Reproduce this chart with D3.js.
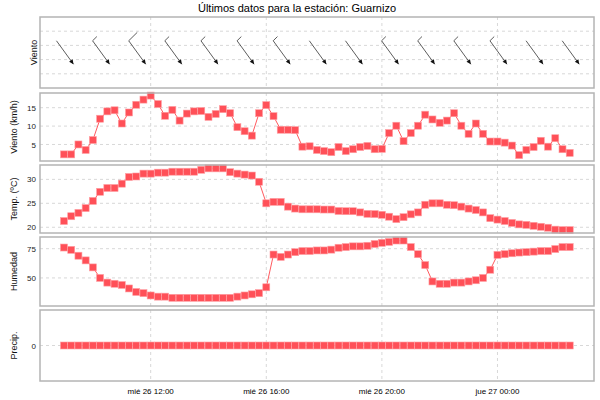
<!DOCTYPE html>
<html lang="es">
<head>
<meta charset="UTF-8">
<script src="https://cdnjs.cloudflare.com/ajax/libs/d3/7.6.1/d3.min.js"></script>
<style>
  body { margin: 0; background: #fff; font-family: "Liberation Sans", Arial, sans-serif; }
  .frame { fill: none; stroke: #b4b4b4; stroke-width: 1.5px; }
  .grid line { stroke: #d8d8d8; stroke-dasharray: 3,3; }
  .tick text { font-size: 8px; fill: #222; font-family: "Liberation Sans", Arial, sans-serif; }
  .ylab { font-size: 9px; fill: #111; }
</style>
</head>
<body>
<div id="wrapper"></div>
<script>
// 15-minute samples, mié 26 09:00 -> jue 27 02:30
const start = new Date(2024, 5, 26, 9, 0);
const speed = [2.3,2.3,5,3.5,6.2,12,14,14.3,10.7,13.7,15.8,17.2,18.3,16,12.8,14.4,11.5,13.4,14,14.1,
  12.5,13.3,14.6,13.5,9.7,8.6,7.4,13.5,15.7,12.7,9,9,8.9,4.4,4.5,3.5,3.2,2.9,4.3,3.2,
  3.7,4.3,4.6,3.7,3.8,8.1,10.1,5.9,8.1,10.1,13.1,11.8,10.9,11.5,13.5,10.1,7.9,10.7,7.9,5.8,
  5.8,5.5,4.7,2.1,3.5,4.3,6,4.4,6.7,3.7,2.7];
const temp = [21.3,22.3,23,24,25.5,27.4,28.2,28.2,29.1,30.5,30.6,31.2,31.2,31.4,31.4,31.6,31.6,31.6,31.6,32,
  32.3,32.3,32.3,31.5,31.2,31,30.8,29.5,25,25.3,25.3,24.3,23.9,23.75,23.75,23.75,23.7,23.7,23.4,23.35,
  23.35,23.1,22.8,22.75,22.6,22.2,21.7,22.1,22.7,23.1,24.7,25,25,24.7,24.6,24.3,23.9,23.6,23.1,21.9,
  21.6,21.3,20.9,20.6,20.5,20.3,20.1,19.9,19.5,19.4,19.4];
const hum = [76,74,69,65,59,50,46,45,44,41,38,37,35,34,34,33,33,33,33,33,
  33,33,33,33,34,35,36,37,42,70,68,70,72,73,73,73.5,73.5,74.2,75.8,76.4,
  77,77,77.5,79,80,80.8,82,82,76.4,70.3,61,47,45,45,46,46,47,48,50,57,
  69.7,70.3,71.1,71.7,72,72.5,73,73,74.7,76.4,76.4];
const precip = speed.map(() => 0);
// wind direction (degrees, where it blows from) every 75 min, with barb speed class
const dirIdx = [0,5,10,15,20,25,30,35,40,45,50,55,60,65,70];
const dirDeg = [324,324,324,324,324,324,324,324,324,324,324,324,324,324,324];
const barb = [0,1,2,1,1,1,1,0,0,1,1,1,1,0,0];
const times = speed.map((d, i) => new Date(+start + i * 15 * 60000));
const tickTimes = [new Date(2024,5,26,12), new Date(2024,5,26,16), new Date(2024,5,26,20), new Date(2024,5,27,0)];
const tickLabels = ["mié 26 12:00", "mié 26 16:00", "mié 26 20:00", "jue 27 00:00"];

const W = 600, H = 400, L = 40, R = 594;
const svg = d3.select("#wrapper").append("svg").attr("width", W).attr("height", H);
svg.append("text").attr("x", 297).attr("y", 12).attr("text-anchor", "middle")
  .style("font-size", "11px").text("Últimos datos para la estación: Guarnizo");

const x = d3.scaleTime().domain([new Date(+start - 0.83 * 3600000), new Date(+start + 18.34 * 3600000)]).range([L, R]);

const panels = [
  { top: 17, bot: 88, label: "Viento" },
  { top: 93, bot: 161, label: "Viento (km/h)", data: speed, dom: [0.5, 19], ticks: [5, 10, 15] },
  { top: 165, bot: 233, label: "Temp. (ºC)", data: temp, dom: [18.8, 33], ticks: [20, 25, 30] },
  { top: 237, bot: 306, label: "Humedad", data: hum, dom: [26, 85], ticks: [50, 75] },
  { top: 310, bot: 381, label: "Precip.", data: precip, dom: [-1, 1], ticks: [0] }
];

panels.forEach((p, k) => {
  const g = svg.append("g");
  g.append("g").attr("class", "grid").selectAll("line").data(tickTimes).join("line")
    .attr("x1", d => x(d)).attr("x2", d => x(d)).attr("y1", p.top).attr("y2", p.bot);
  g.append("text").attr("class", "ylab").attr("text-anchor", "middle")
    .attr("transform", `translate(${k === 0 ? 37 : 17},${(p.top + p.bot) / 2}) rotate(-90)`).text(p.label);
  if (k === 0) {
    const gy = d3.scaleLinear().domain([0, 5]).range([p.bot, p.top]);
    g.append("g").attr("class", "grid").selectAll("line").data([1, 2, 3, 4]).join("line")
      .attr("x1", L).attr("x2", R).attr("y1", d => gy(d)).attr("y2", d => gy(d));
    const len = 29;
    dirIdx.forEach((idx, j) => {
      const a = (dirDeg[j] + 180) * Math.PI / 180;
      const dx = Math.sin(a), dy = -Math.cos(a);
      const cx = x(times[idx]) + 1, cy = 52.5;
      const x0 = cx - dx * len / 2, y0 = cy - dy * len / 2, x1 = cx + dx * len / 2, y1 = cy + dy * len / 2;
      g.append("line").attr("x1", x0).attr("y1", y0).attr("x2", x1).attr("y2", y1).attr("stroke", "#333").attr("stroke-width", 0.8);
      const ah = Math.atan2(dy, dx);
      const pts = [[x1, y1], [x1 - 5 * Math.cos(ah - 0.45), y1 - 5 * Math.sin(ah - 0.45)], [x1 - 5 * Math.cos(ah + 0.45), y1 - 5 * Math.sin(ah + 0.45)]];
      g.append("polygon").attr("points", pts.map(q => q.join(",")).join(" ")).attr("fill", "#111");
      const bl = [0, 6, 12][barb[j]];
      if (bl > 0) {
        const ba = ah - Math.PI / 2 - 0.15;
        g.append("line").attr("x1", x0).attr("y1", y0)
          .attr("x2", x0 + bl * Math.cos(ba)).attr("y2", y0 + bl * Math.sin(ba)).attr("stroke", "#333").attr("stroke-width", 0.8);
      }
    });
  } else {
    const y = d3.scaleLinear().domain(p.dom).range([p.bot, p.top]);
    g.append("g").attr("class", "grid").selectAll("line").data(p.ticks).join("line")
      .attr("x1", L).attr("x2", R).attr("y1", d => y(d)).attr("y2", d => y(d));
    const ax = g.append("g").attr("transform", `translate(${L},0)`)
      .call(d3.axisLeft(y).tickValues(p.ticks).tickFormat(d3.format("d")).tickSize(0).tickPadding(4));
    ax.select(".domain").remove();
    g.append("path").datum(p.data)
      .attr("d", d3.line().x((d, i) => x(times[i])).y(d => y(d)))
      .attr("fill", "none").attr("stroke", "#ff5a5f").attr("stroke-width", 1);
    g.selectAll("rect.pt").data(p.data).join("rect").attr("class", "pt")
      .attr("x", (d, i) => x(times[i]) - 3.5).attr("y", d => y(d) - 3.5)
      .attr("width", 7).attr("height", 7).attr("fill", "#ff5058").attr("stroke", "#ffa0a4").attr("stroke-width", 0.6);
  }
  g.append("rect").attr("class", "frame").attr("x", L).attr("y", p.top).attr("width", R - L).attr("height", p.bot - p.top);
});

svg.append("g").selectAll("text").data(tickTimes).join("text")
  .attr("x", d => x(d)).attr("y", 394).attr("text-anchor", "middle").style("font-size", "8px")
  .text((d, i) => tickLabels[i]);
</script>
</body>
</html>
